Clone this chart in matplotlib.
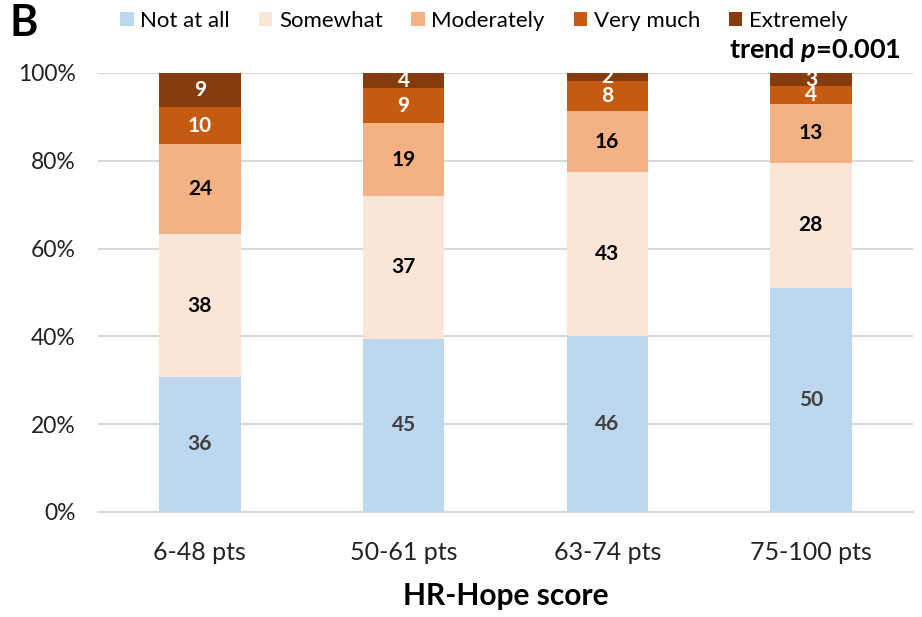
import matplotlib.pyplot as plt
import numpy as np
from matplotlib.patches import Patch

plt.rcParams['font.family'] = ['Lato', 'DejaVu Sans']
plt.rcParams['mathtext.fontset'] = 'custom'
plt.rcParams['mathtext.bfit'] = 'Lato:bold:italic'

groups = ['6-48 pts', '50-61 pts', '63-74 pts', '75-100 pts']
levels = ['Not at all', 'Somewhat', 'Moderately', 'Very much', 'Extremely']
not_at_all = [36, 45, 46, 50]
somewhat = [38, 37, 43, 28]
moderately = [24, 19, 16, 13]
very_much = [10, 9, 8, 4]
extremely = [9, 4, 2, 3]

colors = ['#BDD7EE', '#FBE5D6', '#F4B183', '#C55A11', '#843C0C']
text_colors = ['#404040', 'black', 'black', 'white', 'white']

counts = np.array([not_at_all, somewhat, moderately, very_much, extremely], dtype=float)
shares = counts / counts.sum(axis=0)

fig = plt.figure(figsize=(9.22, 6.17), dpi=100)
ax = fig.add_axes([0.1063, 0.1702, 0.8837, 0.7115])

x = np.arange(len(groups))
bottom = np.zeros(len(groups))
for i in range(len(levels)):
    ax.bar(x, shares[i], 0.4, bottom=bottom, color=colors[i], zorder=3)
    for j in range(len(groups)):
        ax.text(x[j], bottom[j] + shares[i][j] / 2, f'{int(counts[i][j])}',
                ha='center', va='center', fontsize=15, fontweight='bold',
                color=text_colors[i], zorder=4)
    bottom += shares[i]

ax.set_xlim(-0.5, 3.5)
ax.set_ylim(0, 1)
ax.set_yticks(np.linspace(0, 1, 6))
ax.set_yticklabels([f'{v}%' for v in range(0, 101, 20)])
ax.set_xticks(x)
ax.set_xticklabels(groups)
ax.tick_params(axis='y', length=0, pad=16, labelsize=16.5, colors='#222222')
ax.tick_params(axis='x', length=0, pad=21, labelsize=18, colors='#222222')
ax.grid(axis='y', color='#D9D9D9', linewidth=1.5, zorder=0)
for s in ['top', 'right', 'left']:
    ax.spines[s].set_visible(False)
ax.spines['bottom'].set_color('#D9D9D9')
ax.spines['bottom'].set_linewidth(1.5)
ax.set_xlabel('HR-Hope score', fontsize=21.5, fontweight='bold', labelpad=13)

handles = [Patch(facecolor=c, label=l) for c, l in zip(colors, levels)]
fig.legend(handles=handles, loc='center', bbox_to_anchor=(0.525, 0.966), ncol=5,
           frameon=False, fontsize=16, handlelength=0.6, handleheight=0.6,
           handletextpad=0.3, columnspacing=1.3)

fig.text(0.01, 0.963, 'B', fontsize=31, fontweight='bold', va='center', ha='left')
fig.text(0.977, 0.919, r'trend $\mathbfit{p}$=0.001', fontsize=19.5, fontweight='bold',
         ha='right', va='center')

fig.savefig('out.png', dpi=100)
